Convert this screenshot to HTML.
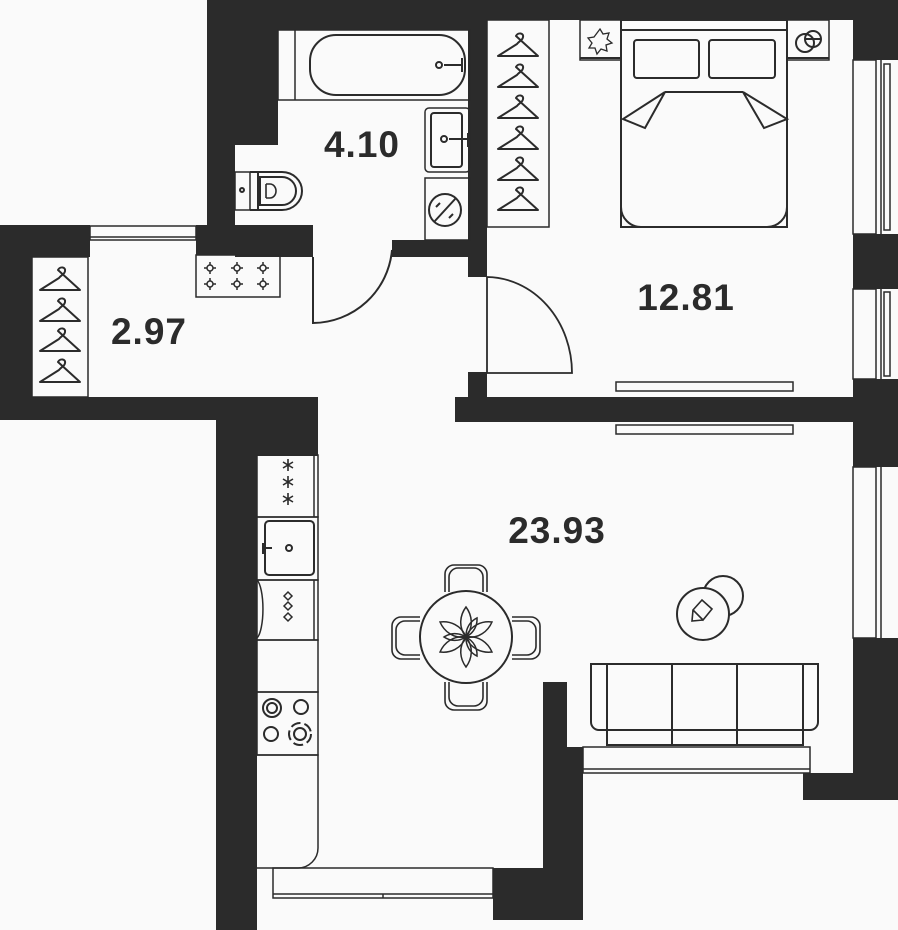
<!DOCTYPE html>
<html><head><meta charset="utf-8"><style>
html,body{margin:0;padding:0;background:#fafafa}
svg{display:block}
text{font-family:"Liberation Sans",sans-serif;font-weight:bold;fill:#2b2b2b;font-size:37px;text-anchor:middle;letter-spacing:1px}
</style></head><body>
<svg width="898" height="930" viewBox="0 0 898 930" xmlns="http://www.w3.org/2000/svg">
<defs>
<g id="hg" fill="none" stroke="#2b2b2b" stroke-width="2" stroke-linejoin="round">
<path d="M20,4 c2,-4 8,-3 7,1 c0,3 -4,4 -6,7 L2,24 L42,24 Z"/>
</g>
<g id="cr" stroke="#2b2b2b" stroke-width="1.5" fill="none"><circle r="3"/><path d="M-6,0h3M3,0h3M0,-6v3M0,3v3"/></g>
</defs>
<rect width="898" height="930" fill="#fafafa"/>
<g fill="#2b2b2b">
<rect x="207" y="0" width="691" height="20"/>
<rect x="207" y="0" width="278" height="30"/>
<rect x="207" y="0" width="71" height="145"/>
<rect x="207" y="0" width="28" height="255"/>
<rect x="196" y="225" width="117" height="30"/>
<rect x="235" y="240" width="78" height="17"/>
<rect x="392" y="240" width="95" height="17"/>
<rect x="468" y="20" width="19" height="257"/>
<rect x="468" y="372" width="19" height="30"/>
<rect x="455" y="397" width="443" height="25"/>
<rect x="0" y="225" width="90" height="32"/>
<rect x="0" y="225" width="32" height="195"/>
<rect x="0" y="397" width="318" height="23"/>
<rect x="216" y="397" width="102" height="59"/>
<rect x="216" y="397" width="41" height="533"/>
<rect x="853" y="0" width="45" height="60"/>
<rect x="853" y="234" width="45" height="55"/>
<rect x="853" y="379" width="45" height="88"/>
<rect x="853" y="638" width="45" height="162"/>
<rect x="803" y="773" width="95" height="27"/>
<rect x="543" y="682" width="24" height="238"/>
<rect x="543" y="747" width="40" height="173"/>
<rect x="493" y="868" width="90" height="52"/>
</g>
<g fill="none" stroke="#2b2b2b" stroke-width="2">
<rect x="90" y="226" width="106" height="14" fill="#fafafa" stroke-width="1.5"/>
<line x1="90" y1="237" x2="196" y2="237" stroke-width="1.5"/>
<rect x="273" y="868" width="220" height="30" stroke-width="1.5"/>
<line x1="273" y1="894" x2="493" y2="894" stroke-width="1.5"/>
<line x1="383" y1="894" x2="383" y2="898" stroke-width="1.5"/>
<rect x="583" y="747" width="227" height="26" stroke-width="1.5"/>
<line x1="583" y1="769" x2="810" y2="769" stroke-width="1.5"/>
<g stroke-width="1.5">
<rect x="853" y="60" width="23" height="174"/><line x1="881" y1="60" x2="881" y2="234"/><rect x="884" y="64" width="6" height="166"/>
<rect x="853" y="289" width="23" height="90"/><line x1="881" y1="289" x2="881" y2="379"/><rect x="884" y="292" width="6" height="84"/>
<rect x="853" y="467" width="23" height="171"/><line x1="881" y1="467" x2="881" y2="638"/>
</g>
<rect x="616" y="382" width="177" height="9" stroke-width="1.5"/>
<rect x="616" y="425" width="177" height="9" stroke-width="1.5"/>
<path d="M313,257 L313,323 A80,80 0 0 0 392,250"/>
<path d="M487,277 L487,373 L572,373 A86,96 0 0 0 487,277" stroke-width="1.8"/>
<rect x="32" y="257" width="56" height="140" stroke-width="1.5"/>
<rect x="196" y="255" width="84" height="42" stroke-width="1.5"/>
<rect x="278" y="30" width="192" height="70" stroke-width="1.5"/>
<line x1="295" y1="30" x2="295" y2="100" stroke-width="1.5"/>
<rect x="310" y="35" width="155" height="60" rx="26"/>
<circle cx="439" cy="65" r="3"/><path d="M444,65h19M462,58v14"/>
<rect x="425" y="108" width="45" height="64" rx="4" stroke-width="1.5"/>
<rect x="431" y="113" width="31" height="54" rx="3"/>
<circle cx="444" cy="139" r="3"/><path d="M449,139h19M468,133v14"/>
<rect x="425" y="178" width="45" height="62" stroke-width="1.5"/>
<circle cx="445" cy="210" r="16"/><path d="M434,222L456,198M440,203l-4,4M453,214l-4,4"/>
<rect x="235" y="172" width="15" height="38" stroke-width="1.5"/>
<circle cx="242" cy="190" r="2"/>
<path d="M250,172 L282,172 A20,19 0 0 1 282,210 L250,210" />
<path d="M258,172 V210"/>
<path d="M260,177 H282 A14,14 0 0 1 282,205 H260 Z"/>
<path d="M266,184 V198 M266,184 h4 a6,7 0 0 1 0,14 h-4" stroke-width="1.6"/>
<rect x="487" y="20" width="62" height="207" stroke-width="1.5"/>
<rect x="580" y="20" width="41" height="40" stroke-width="1.5"/>
<line x1="580" y1="58" x2="621" y2="58"/>
<rect x="787" y="20" width="42" height="40" stroke-width="1.5"/>
<line x1="787" y1="58" x2="829" y2="58"/>
<rect x="621" y="20" width="166" height="207"/>
<line x1="621" y1="30" x2="787" y2="30"/>
<rect x="634" y="40" width="65" height="38" rx="3"/>
<rect x="709" y="40" width="66" height="38" rx="3"/>
<path d="M665,92 H743 M665,92 L623,119 L645,128 Z M743,92 L787,119 L764,128 Z"/>
<path d="M621,207 a20,20 0 0 0 20,20 M787,207 a20,20 0 0 1 -20,20"/>
<circle cx="805" cy="43" r="9"/><circle cx="813" cy="39" r="8"/><path d="M806,39h15"/>
<path d="M600,29 l3,5 l6,-1 l-2,6 l5,4 l-6,2 l1,6 l-6,-2 l-4,5 l-2,-6 l-6,0 l3,-5 l-4,-5 l6,-1 Z" stroke-width="1.3"/>
<rect x="257" y="455" width="61" height="62" stroke-width="1.5"/>
<line x1="314" y1="455" x2="314" y2="517" stroke-width="1.5"/>
<rect x="257" y="517" width="61" height="63" stroke-width="1.5"/>
<rect x="265" y="521" width="49" height="54" rx="4"/>
<circle cx="289" cy="548" r="3"/><path d="M262,548h10M263,543v11"/>
<rect x="257" y="580" width="61" height="60" stroke-width="1.5"/>
<line x1="314" y1="580" x2="314" y2="640" stroke-width="1.5"/>
<path d="M257,580 a8,30 0 0 1 0,58" stroke-width="1.5"/>
<path d="M284,596 l4,-4 l4,4 l-4,4 Z M284,606 l4,-4 l4,4 l-4,4 Z M284,617 l4,-4 l4,4 l-4,4 Z" stroke-width="1.5"/>
<rect x="257" y="640" width="61" height="52" stroke-width="1.5"/>
<rect x="257" y="692" width="61" height="63" stroke-width="1.5"/>
<circle cx="272" cy="708" r="9"/><circle cx="272" cy="708" r="5"/>
<circle cx="301" cy="707" r="7"/>
<circle cx="271" cy="734" r="7"/>
<circle cx="300" cy="734" r="6"/><circle cx="300" cy="734" r="11" stroke-dasharray="10 4"/>
<path d="M257,755 H318 V848 A20,20 0 0 1 298,868 H257" stroke-width="1.5"/>
<path d="M445,592 V574 a9,9 0 0 1 9,-9 h24 a9,9 0 0 1 9,9 V592 M449,592 V577 a9,9 0 0 1 9,-9 h16 a9,9 0 0 1 9,9 V592" stroke-width="1.6"/>
<path d="M445,682 V701 a9,9 0 0 0 9,9 h24 a9,9 0 0 0 9,-9 V682 M449,682 V697 a9,9 0 0 0 9,9 h16 a9,9 0 0 0 9,-9 V682" stroke-width="1.6"/>
<path d="M420,617 H401 a9,9 0 0 0 -9,9 v24 a9,9 0 0 0 9,9 H420 M420,621 H405 a9,9 0 0 0 -9,9 v16 a9,9 0 0 0 9,9 H420" stroke-width="1.6"/>
<path d="M512,617 H531 a9,9 0 0 1 9,9 v24 a9,9 0 0 1 -9,9 H512 M512,621 H527 a9,9 0 0 1 9,9 v16 a9,9 0 0 1 -9,9 H512" stroke-width="1.6"/>
<circle cx="466" cy="637" r="46" fill="#fafafa"/>
<g stroke-width="1.5" transform="translate(466,637)">
<path d="M0,0 C-8,-10 -6,-22 0,-30 C6,-22 8,-10 0,0Z"/>
<path d="M0,0 C-8,-10 -6,-22 0,-30 C6,-22 8,-10 0,0Z" transform="rotate(60)"/>
<path d="M0,0 C-8,-10 -6,-22 0,-30 C6,-22 8,-10 0,0Z" transform="rotate(120)"/>
<path d="M0,0 C-8,-10 -6,-22 0,-30 C6,-22 8,-10 0,0Z" transform="rotate(180)"/>
<path d="M0,0 C-8,-10 -6,-22 0,-30 C6,-22 8,-10 0,0Z" transform="rotate(240)"/>
<path d="M0,0 C-8,-10 -6,-22 0,-30 C6,-22 8,-10 0,0Z" transform="rotate(300)"/>
<path d="M0,0 C-5,-8 -4,-16 0,-22 C4,-16 5,-8 0,0Z" transform="rotate(30)"/>
<path d="M0,0 C-5,-8 -4,-16 0,-22 C4,-16 5,-8 0,0Z" transform="rotate(150)"/>
<path d="M0,0 C-5,-8 -4,-16 0,-22 C4,-16 5,-8 0,0Z" transform="rotate(270)"/>
</g>
<circle cx="723" cy="596" r="20"/>
<circle cx="703" cy="614" r="26" fill="#fafafa"/>
<path d="M693,610 l9,-10 l10,9 l-9,11 Z M693,610 l-1,11 l11,-1" stroke-width="1.6"/>
<path d="M607,730 V664 H591 V722 a8,8 0 0 0 8,8 H607"/>
<path d="M803,730 V664 H818 V722 a8,8 0 0 1 -8,8 H803"/>
<path d="M607,664 H803 V745 H607 Z"/>
<path d="M607,730 H803 M672,664 V745 M737,664 V745"/>
</g>
<use href="#hg" x="38" y="266"/><use href="#hg" x="38" y="297"/><use href="#hg" x="38" y="327"/><use href="#hg" x="38" y="358"/>
<use href="#hg" x="496" y="32"/><use href="#hg" x="496" y="63"/><use href="#hg" x="496" y="94"/><use href="#hg" x="496" y="125"/><use href="#hg" x="496" y="156"/><use href="#hg" x="496" y="186"/>
<use href="#cr" x="210" y="268"/><use href="#cr" x="237" y="268"/><use href="#cr" x="263" y="268"/>
<use href="#cr" x="210" y="284"/><use href="#cr" x="237" y="284"/><use href="#cr" x="263" y="284"/>
<g stroke="#2b2b2b" stroke-width="1.6">
<path d="M288,459v12M283,462l10,6M283,468l10,-6"/>
<path d="M288,476v12M283,479l10,6M283,485l10,-6"/>
<path d="M288,493v12M283,496l10,6M283,502l10,-6"/>
</g>
<text x="362" y="157">4.10</text>
<text x="149" y="344">2.97</text>
<text x="686" y="310">12.81</text>
<text x="557" y="543">23.93</text>
</svg>
</body></html>
